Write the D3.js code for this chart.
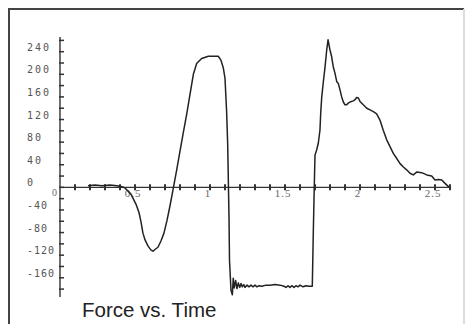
<!DOCTYPE html>
<html>
<head>
<meta charset="utf-8">
<script src="https://cdn.jsdelivr.net/npm/d3@7"></script>
<style>
  html, body { margin: 0; padding: 0; background: #fff; }
  svg { display: block; }
</style>
</head>
<body>
<div id="chart"></div>
<script>
// ---- data ----
const time = [
  0.187, 0.233, 0.28, 0.333, 0.38, 0.413, 0.433, 0.473, 0.507, 0.527, 0.54, 0.553, 0.567, 0.587, 0.607, 0.62, 0.633,
  0.653, 0.673, 0.693, 0.713, 0.733, 0.753, 0.778, 0.8, 0.822, 0.845, 0.867, 0.889, 0.911, 0.944, 0.989,
  1.055, 1.073, 1.089, 1.1, 1.111, 1.118, 1.122, 1.127, 1.13, 1.14, 1.149, 1.155, 1.162, 1.171, 1.18, 1.189,
  1.198, 1.207, 1.215, 1.225, 1.233, 1.247, 1.26, 1.273, 1.287, 1.3, 1.313, 1.327, 1.347, 1.373, 1.4, 1.433,
  1.467, 1.493, 1.507, 1.52, 1.533, 1.547, 1.56, 1.573, 1.587, 1.6, 1.62, 1.64, 1.66, 1.677,
  1.682, 1.689, 1.695, 1.7, 1.711, 1.722, 1.733, 1.738, 1.745, 1.755, 1.767, 1.778, 1.787, 1.8, 1.811, 1.822,
  1.833, 1.845, 1.855, 1.867, 1.878, 1.889, 1.9, 1.911, 1.922, 1.933, 1.955, 1.967, 1.978, 1.989, 2.0, 2.022,
  2.045, 2.067, 2.089, 2.111, 2.133, 2.155, 2.178, 2.2, 2.222, 2.245, 2.267, 2.289, 2.311, 2.333, 2.355, 2.378,
  2.411, 2.445, 2.478, 2.5, 2.522, 2.545, 2.567, 2.595
];
const force = [
  3, 4, 3, 4, 3, 1, -1, -12, -30, -45, -61, -81, -93, -104, -111, -113, -110,
  -106, -95, -81, -59, -33, -5, 31, 64, 97, 130, 165, 200, 219, 228, 232,
  232, 225, 211, 193, 133, 75, 16, -58, -129, -182, -190, -161, -178, -165, -179, -169,
  -177, -170, -176, -172, -177, -173, -176, -173, -176, -173, -176, -174, -175, -173, -173, -172,
  -173, -175, -177, -174, -177, -174, -177, -174, -176, -173, -176, -174, -175, -175,
  -175, -76, 0, 57, 66, 78, 101, 131, 160, 185, 213, 243, 261, 243, 231, 213,
  202, 187, 184, 172, 160, 151, 146, 146, 149, 151, 153, 155, 159, 158, 152, 146,
  140, 137, 134, 130, 119, 101, 84, 72, 60, 51, 42, 36, 31, 25, 22, 27,
  26, 22, 20, 13, 14, 13, 7, 0
];
const yTickValues = d3.range(-180, 261, 20);
const yLabelValues = [240, 200, 160, 120, 80, 40, 0, -40, -80, -120, -160];
const xTickValues = d3.range(1, 27).map(d => d / 10);
const xLabelValues = [0.5, 1, 1.5, 2, 2.5];
const xLabelText = ["0.5", "1", "1.5", "2", "2.5"];
const titleText = "Force vs. Time";

// ---- drawing ----
const W = 466, H = 324;
const svg = d3.select("#chart").append("svg").attr("width", W).attr("height", H);

const x = d3.scaleLinear().domain([0, 2.6]).range([60, 450]);
const y = d3.scaleLinear().domain([-194, 266]).range([297, 37]);

// frame
svg.append("path")
  .attr("d", `M9,${H} L9,9 L464,9`)
  .attr("fill", "none").attr("stroke", "#444").attr("stroke-width", 2);
svg.append("line").attr("x1", 464).attr("x2", 464).attr("y1", 9).attr("y2", H)
  .attr("stroke", "#ddd").attr("stroke-width", 2);

// axes lines
const axisColor = "#333";
svg.append("line").attr("x1", x(0)).attr("x2", x(2.6)).attr("y1", y(0)).attr("y2", y(0))
  .attr("stroke", axisColor).attr("stroke-width", 1.4);
svg.append("line").attr("x1", x(0)).attr("x2", x(0)).attr("y1", y(266)).attr("y2", y(-194))
  .attr("stroke", axisColor).attr("stroke-width", 1.4);

// y ticks
svg.append("g").selectAll("line").data(yTickValues).join("line")
  .attr("x1", x(0) - 1).attr("x2", x(0) + 4)
  .attr("y1", d => y(d)).attr("y2", d => y(d))
  .attr("stroke", axisColor).attr("stroke-width", 1.5);

// x ticks
svg.append("g").selectAll("line").data(xTickValues).join("line")
  .attr("x1", d => x(d)).attr("x2", d => x(d))
  .attr("y1", y(0) - 3).attr("y2", y(0) + 3)
  .attr("stroke", axisColor).attr("stroke-width", 2);

// y labels
svg.append("g").selectAll("text").data(yLabelValues).join("text")
  .attr("x", 27).attr("y", d => y(d) - 1)
  .attr("font-family", "DejaVu Sans Mono")
  .attr("font-size", 10).attr("letter-spacing", d => d < 0 ? 1 : 2)
  .attr("fill", "#555")
  .text(d => d);

// x labels
svg.append("g").selectAll("text").data(xLabelValues).join("text")
  .attr("x", d => x(d) - 2).attr("y", y(0) + 10)
  .attr("text-anchor", "middle")
  .attr("font-family", "Liberation Serif")
  .attr("font-size", 11).attr("letter-spacing", 1)
  .attr("fill", "#666")
  .text((d, i) => xLabelText[i]);
svg.append("text").attr("x", 52).attr("y", y(0) + 9)
  .attr("font-family", "Liberation Serif").attr("font-size", 10).attr("fill", "#666").text("0");

// curve
const pts = time.map((t, i) => [t, force[i]]);
svg.append("path").datum(pts)
  .attr("d", d3.line().x(d => x(d[0])).y(d => y(d[1])))
  .attr("fill", "none").attr("stroke", "#222").attr("stroke-width", 1.5)
  .attr("stroke-linejoin", "round");

// title
svg.append("text").attr("x", 82).attr("y", 317)
  .attr("font-family", "Liberation Sans").attr("font-size", 20.5)
  .attr("fill", "#222").text(titleText);
</script>
</body>
</html>
